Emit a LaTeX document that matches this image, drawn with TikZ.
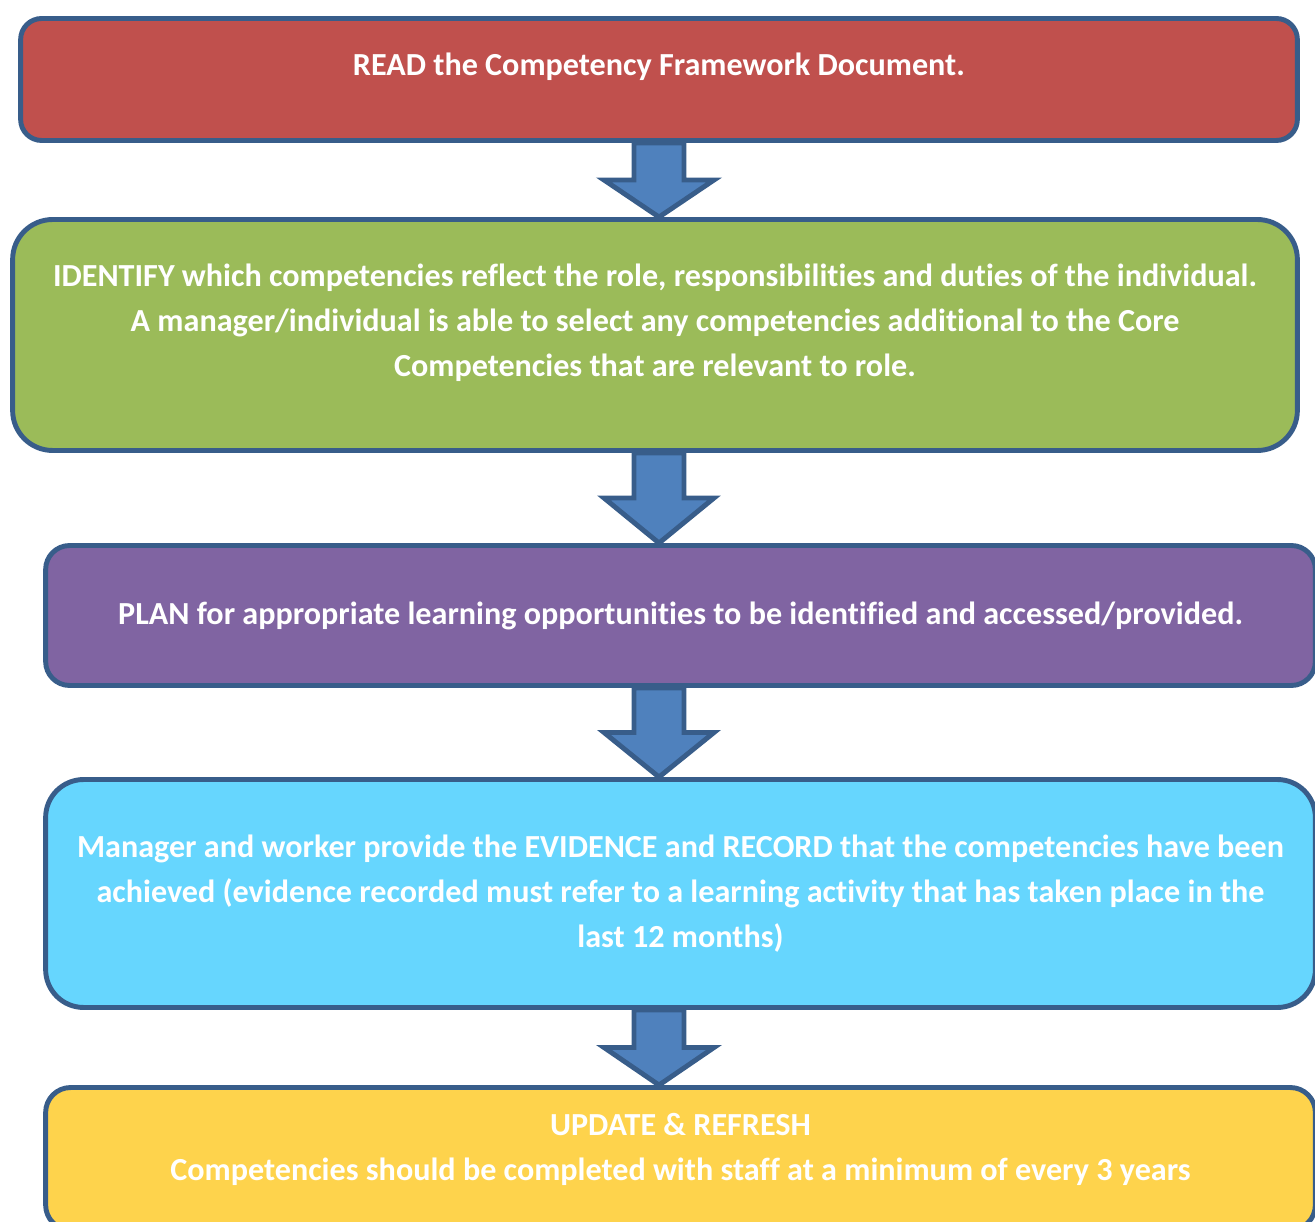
\documentclass[tikz,border=0pt]{standalone}
\usepackage{fontspec}
\setmainfont[Ligatures=NoCommon]{Carlito}
\usepackage{tikz}
\usetikzlibrary{calc,positioning}

\definecolor{edgeblue}{HTML}{385D8A}
\definecolor{arrowblue}{HTML}{4F81BD}
\definecolor{readred}{HTML}{C0504D}
\definecolor{idgreen}{HTML}{9BBB59}
\definecolor{planpurple}{HTML}{8064A2}
\definecolor{evcyan}{HTML}{66D6FE}
\definecolor{updyellow}{HTML}{FED34C}

\tikzset{
  stepbox/.style={rectangle, draw=edgeblue, line width=2.8pt, text=white,
    font=\bfseries\fontsize{18.3}{25.5}\selectfont, align=center, inner sep=0pt},
  blockarrow/.style={draw=edgeblue, fill=arrowblue, line width=2.8pt, line join=miter}
}

\newcommand{\downblock}[2]{%
  \coordinate (s) at (#1.south -| axis);
  \coordinate (t) at (#2.north -| axis);
  \coordinate (m) at ($(s)!.5!(t)$);
  \path[blockarrow] ($(s)+(-25,0)$) -- ($(m)+(-25,0)$) -- ($(m)+(-55,0)$) -- (t)
    -- ($(m)+(55,0)$) -- ($(m)+(25,0)$) -- ($(s)+(25,0)$) -- cycle;
}

\begin{document}
\begin{tikzpicture}[x=0.02cm, y=-0.02cm]
\useasboundingbox (0,0) rectangle (1315,1222);
\coordinate (axis) at (659,0);

\node[stepbox, fill=readred, rounded corners=0.42cm, minimum width=25.54cm, minimum height=2.44cm, text depth=0.62cm] (read) at (659,79.5) {READ the Competency Framework Document.};
\node[stepbox, fill=idgreen, rounded corners=0.8cm, minimum width=25.7cm, minimum height=4.62cm, text depth=0.60cm] (identify) at (655,335) {IDENTIFY which competencies reflect the role, responsibilities and duties of the individual.\\ A manager/individual is able to select any competencies additional to the Core\\ Competencies that are relevant to role.};
\node[stepbox, fill=planpurple, rounded corners=0.48cm, minimum width=25.4cm, minimum height=2.8cm] (plan) at (680.5,615.5) {PLAN for appropriate learning opportunities to be identified and accessed/provided.};
\node[stepbox, fill=evcyan, rounded corners=0.76cm, minimum width=25.4cm, minimum height=4.56cm] (evidence) at (680.5,893.5) {Manager and worker provide the EVIDENCE and RECORD that the competencies have been\\ achieved (evidence recorded must refer to a learning activity that has taken place in the\\ last 12 months)};
\node[stepbox, fill=updyellow, rounded corners=0.5cm, minimum width=25.4cm, minimum height=2.85cm, text depth=0.47cm] (update) at (680.5,1158.75) {UPDATE \& REFRESH\\ Competencies should be completed with staff at a minimum of every 3 years};

\downblock{read}{identify}
\downblock{identify}{plan}
\downblock{plan}{evidence}
\downblock{evidence}{update}
\end{tikzpicture}
\end{document}
